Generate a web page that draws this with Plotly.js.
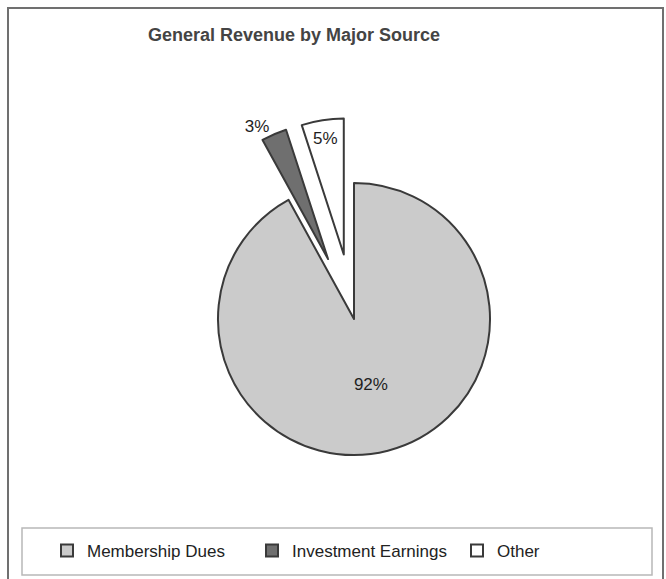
<!DOCTYPE html>
<html>
<head>
<meta charset="utf-8">
<script src="https://cdn.plot.ly/plotly-3.0.1.min.js"></script>
<style>html,body{margin:0;padding:0;background:#fff;}#chart{width:666px;height:579px;}</style>
</head>
<body>
<div id="chart"></div>
<script>
// Data
var categories = ['Membership Dues', 'Investment Earnings', 'Other'];
var values = [92, 3, 5];
var chartTitle = 'General Revenue by Major Source';

var W = 666, H = 579;
function px(x){ return x / W; }
function py(y){ return 1 - y / H; }

var trace = {
  type: 'pie',
  labels: categories,
  values: values,
  sort: false,
  direction: 'clockwise',
  rotation: 0,
  pull: [0, 0.48, 0.48],
  textinfo: 'percent',
  texttemplate: '%{percent:.0%}',
  textposition: ['inside', 'outside', 'inside'],
  insidetextorientation: 'horizontal',
  textfont: {family: 'Liberation Sans, Arial, sans-serif', size: 17, color: '#1e1e1e'},
  marker: {
    colors: ['#cbcbcb', '#6f6f6f', '#ffffff'],
    line: {color: '#3a3a3a', width: 2}
  },
  domain: {x: [px(152.7), px(555.3)], y: [py(520.3), py(117.7)]},
  hoverinfo: 'label+percent'
};

var layout = {
  width: W, height: H,
  margin: {l: 0, r: 0, t: 0, b: 0},
  paper_bgcolor: '#ffffff',
  plot_bgcolor: '#ffffff',
  font: {family: 'Liberation Sans, Arial, sans-serif', color: '#222'},
  title: {
    text: '<b>' + chartTitle + '</b>',
    font: {family: 'Liberation Sans, Arial, sans-serif', size: 18, color: '#444'},
    x: px(294), xanchor: 'center', xref: 'paper',
    y: py(35), yanchor: 'middle', yref: 'paper'
  },
  showlegend: true,
  legend: {
    orientation: 'h',
    x: px(47), xanchor: 'left',
    y: py(551), yanchor: 'middle',
    bgcolor: 'rgba(0,0,0,0)',
    borderwidth: 0,
    entrywidth: 160,
    entrywidthmode: 'pixels',
    font: {family: 'Liberation Sans, Arial, sans-serif', size: 17, color: '#222'},
    traceorder: 'normal'
  },
  shapes: [
    {type: 'rect', xref: 'paper', yref: 'paper', x0: px(8), x1: px(663), y0: py(600), y1: py(8),
     line: {color: '#707070', width: 2}, fillcolor: 'rgba(0,0,0,0)', layer: 'below'},
    {type: 'rect', xref: 'paper', yref: 'paper', x0: px(22), x1: px(652), y0: py(575), y1: py(528),
     line: {color: '#b8b8b8', width: 1.5}, fillcolor: 'rgba(0,0,0,0)', layer: 'below'}
  ]
};

Plotly.newPlot('chart', [trace], layout, {displayModeBar: false, staticPlot: true});
</script>
</body>
</html>
